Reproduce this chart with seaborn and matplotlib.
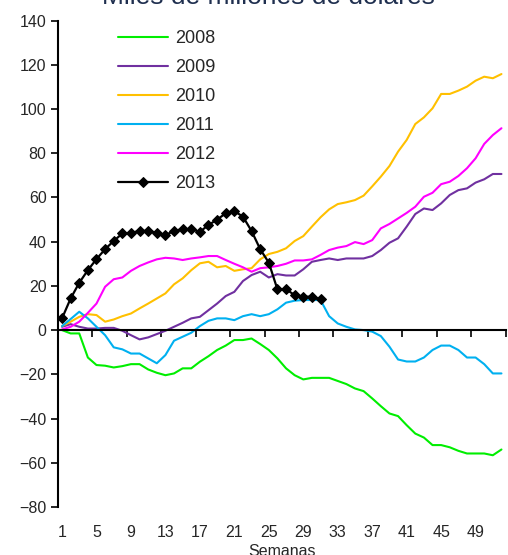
import pandas as pd
import matplotlib
matplotlib.use('Agg')
import matplotlib.pyplot as plt
import seaborn as sns

sns.set_theme(style='white')
plt.rcParams['font.family'] = ['Liberation Sans', 'DejaVu Sans']

weeks = list(range(1, 53))

v2008 = [0, -1.5, -1.5, -12.4, -15.8, -16.1, -16.9, -16.3, -15.4, -15.4, -17.8, -19.3, -20.4,
         -19.6, -17.3, -17.3, -14.3, -11.8, -9, -7, -4.5, -4.5, -3.8, -6.3, -9, -12.8, -17.3,
         -20.4, -22.3, -21.6, -21.6, -21.6, -23, -24.4, -26.4, -27.6, -30.9, -34.4, -37.7,
         -38.9, -43, -46.8, -48.6, -52, -52, -53, -54.6, -55.8, -55.8, -55.8, -56.6, -54]
v2009 = [1.5, 2.7, 1.5, 0.7, 0.7, 1, 1, -0.3, -2.3, -4.2, -3.3, -1.8, -0.3, 1.5, 3.3, 5.3, 6,
         9, 12, 15.4, 17.3, 22.2, 24.9, 26.4, 23.8, 25.3, 24.7, 24.7, 27.5, 30.9, 31.7, 32.4,
         31.7, 32.4, 32.4, 32.4, 33.5, 36.2, 39.5, 41.5, 46.8, 52.5, 55, 54.3, 57.3, 61.1,
         63.3, 64.1, 66.7, 68.2, 70.6, 70.6]
v2010 = [1.8, 3.8, 6, 7.2, 6.8, 3.8, 4.8, 6.3, 7.5, 9.8, 12, 14.3, 16.6, 20.7, 23.4, 27.1,
         30.2, 30.9, 28.4, 29, 26.8, 27.5, 28, 32, 34.4, 35.4, 37, 40.3, 42.5, 46.8, 51, 54.6,
         57, 57.8, 58.8, 60.8, 65, 69.4, 74.2, 80.7, 86, 93.2, 96.2, 100.3, 106.8, 106.8,
         108.3, 110.1, 112.8, 114.6, 113.9, 115.8]
v2011 = [1.8, 5, 8.3, 5.3, 1.5, -2.3, -7.8, -8.7, -10.6, -10.6, -12.8, -15, -11.3, -4.8, -3,
         -1.2, 1.8, 4.2, 5.3, 5.3, 4.5, 6.3, 7.2, 6.3, 7.2, 9.4, 12.4, 13.3, 13.6, 13.6, 13.6,
         6.3, 3, 1.5, 0.3, 0, -0.7, -2.7, -7.5, -13.3, -14.2, -14.2, -12.4, -9, -7, -7, -9,
         -12.4, -12.4, -15.4, -19.6, -19.6]
v2012 = [0.3, 1.5, 3.8, 7.8, 12, 19.6, 23, 23.8, 26.8, 29, 30.6, 32, 32.7, 32.4, 31.7, 32.4,
         32.9, 33.5, 33.5, 31.7, 30, 28.4, 26.4, 28, 28.4, 29, 30, 31.5, 31.5, 32, 34, 36.2,
         37.3, 38, 39.8, 38.9, 40.7, 46, 48, 50.5, 53, 55.8, 60.3, 62.1, 66, 67.1, 69.7, 73.2,
         77.7, 84.2, 88.2, 91.3]
v2013 = [5.3, 14.3, 21.4, 27.1, 32.1, 36.6, 40.3, 43.7, 44, 44.8, 44.9, 44, 43, 44.8, 45.7,
         45.6, 44.5, 47.5, 50, 52.8, 53.8, 51.3, 44.8, 36.6, 30.5, 18.4, 18.5, 15.8, 15.1,
         15.1, 14]

years = ['2008', '2009', '2010', '2011', '2012', '2013']
colors = ['#00ee00', '#7030a0', '#ffc000', '#00b0f0', '#ff00ff', '#000000']
series = [v2008, v2009, v2010, v2011, v2012, v2013]

rows = []
for yr, vals in zip(years, series):
    for w, v in zip(weeks, vals):
        rows.append({'Semana': w, 'Valor': v, 'Año': yr})
df = pd.DataFrame(rows)

fig = plt.figure(figsize=(5.08, 5.55), dpi=100)
ax = fig.add_axes([0.1136, 0.0865, 0.882, 0.8765])

for yr, col in zip(years, colors):
    d = df[df['Año'] == yr]
    if yr == '2013':
        sns.lineplot(data=d, x='Semana', y='Valor', ax=ax, color=col, lw=1.6,
                     marker='D', markersize=4.6, markeredgecolor=col, label=yr)
    else:
        sns.lineplot(data=d, x='Semana', y='Valor', ax=ax, color=col, lw=1.5, label=yr)

ax.set_xlim(0.5, 52.5)
ax.set_ylim(-80, 140)
ax.set_yticks(range(-80, 141, 20))
ax.set_xticks([4.5 + 4 * i for i in range(13)])
ax.tick_params(axis='x', which='both', bottom=True, labelbottom=False,
               direction='out', length=5, width=1.2, color='black')
ax.tick_params(axis='y', direction='out', length=5, width=1.2, color='black',
               labelsize=11.5, pad=3, left=True)
for s in ['top', 'right']:
    ax.spines[s].set_visible(False)
ax.spines['bottom'].set_position(('data', 0))
ax.spines['bottom'].set_color('black')
ax.spines['bottom'].set_linewidth(1.5)
ax.spines['left'].set_color('black')
ax.spines['left'].set_linewidth(1.5)
ax.set_xlabel('')
ax.set_ylabel('')

secax = ax.secondary_xaxis('bottom')
secax.set_xticks(list(range(1, 50, 4)))
secax.tick_params(axis='x', length=0, labelsize=11.5, pad=13)
secax.spines['bottom'].set_visible(False)
secax.set_xlabel('Semanas', fontsize=11.5, labelpad=3)

leg = ax.legend(loc='upper left', bbox_to_anchor=(118 / 508, 1 - 30 / 555),
                bbox_transform=fig.transFigure, frameon=False, fontsize=13,
                handlelength=2.75, handletextpad=0.4, labelspacing=0.67,
                borderpad=0, borderaxespad=0)

fig.text(268 / 508, 1 - 4.5 / 555, 'Miles de millones de dólares', ha='center',
         va='baseline', fontsize=19, color='#1f2f4f')

fig.savefig('out.png', dpi=100)
